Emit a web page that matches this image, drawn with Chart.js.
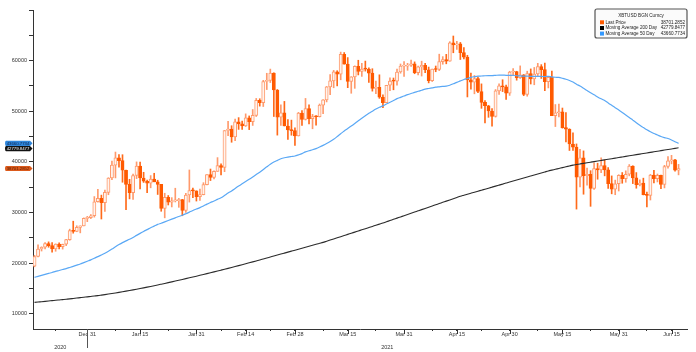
<!DOCTYPE html>
<html><head><meta charset="utf-8">
<script src="https://cdn.jsdelivr.net/npm/chart.js@4.4.1/dist/chart.umd.min.js"></script>
<style>html,body{margin:0;padding:0;background:#fff;}#wrap{width:696px;height:352px;position:relative;}</style>
</head><body><div id="wrap"><canvas id="c" width="696" height="352"></canvas></div>
<script>
// Daily candles from 2020-12-16 to 2021-06-17; x = day offset from 2020-12-31
const firstDay = -15;
const opens = [
19427,21310,22806,23138,23870,23478,22804,23783,23242,23736,
24665,26437,26273,27085,27362,28841,29002,29374,32127,32782,
31972,33992,36824,39371,40797,40254,38356,35566,33922,37316,
39188,36825,36178,35792,36630,36070,35548,30825,33006,32068,
32289,32366,32569,30432,33467,34316,34270,33115,33538,35510,
37473,36926,38144,39266,38903,46196,46481,44919,47909,47504,
47105,48717,47945,49199,52149,51679,55888,56100,57540,54207,
48825,49705,47093,46339,46188,45137,49632,48378,50538,48562,
48928,48912,51206,52247,54824,56008,57805,57332,61243,59302,
55907,56804,58870,57859,58346,58313,57524,54529,54738,52775,
51704,55137,55974,55947,57750,58918,58930,59095,59384,57603,
58758,59057,58192,56048,58323,58245,59793,60204,59893,63503,
63109,63315,61572,60683,56216,55724,56473,53906,51763,51093,
50050,49004,54021,55033,54824,53555,57750,57828,56631,57200,
53333,57424,56396,57357,58803,58232,55859,56704,49150,49716,
49880,46760,46456,43538,42910,36964,40784,37304,37536,34771,
38706,38403,39295,38437,35698,34617,35678,37333,36694,37568,
39188,36851,35520,35796,33552,33380,37389,36702,37334,35552,
39097,40218,40406,38347];
const highs = [
21560,23642,23238,24085,24209,24060,23812,24024,23768,24711,
26718,28288,27389,27370,28937,29244,29601,33155,34608,33441,
34438,36879,40180,41946,41436,41421,38400,36568,37600,40000,
39966,37951,36415,37299,37755,36378,35552,33811,33360,32944,
34802,32794,32600,33783,38406,34834,34288,34638,35896,37480,
38592,38225,40846,39621,46203,48004,47145,48463,48745,48047,
49487,49079,50341,52533,52474,56113,57505,58330,57600,54300,
51290,51948,48370,48253,46716,49784,50127,52535,51274,49396,
49147,51439,52314,54901,57258,58065,58012,61683,61597,60602,
56833,58970,60075,59469,59911,58588,58405,55985,57200,53230,
55138,56610,56568,58342,59337,59800,59469,60110,59754,58913,
59891,59479,58731,58338,58937,61276,60790,61238,63742,64863,
63821,63595,62572,61057,57520,57062,56757,55410,52131,51167,
50554,54288,55416,56227,55196,57900,58448,57900,58963,57250,
57911,58363,58650,59464,59210,59519,56873,57939,51330,51438,
50639,49720,46550,45749,43547,42462,42172,38776,38271,39835,
39742,40782,40379,38856,37234,36400,37469,37897,38237,39476,
39242,37892,36436,36790,34017,37534,38334,37608,37400,39322,
41064,41295,40516,39513];
const lows = [
19278,21234,22399,22827,23147,22160,22353,22802,22778,23463,
24522,25922,26207,25987,27360,28201,28803,29091,32052,28722,
30221,33514,36491,36838,38980,35984,30549,32697,32584,36700,
34659,35944,33906,34884,36069,33570,30250,28953,31493,31106,
32087,31030,29367,30023,32064,32940,32270,32384,33489,35443,
36317,36658,38138,37446,38076,45166,43881,44187,46424,46392,
47000,46379,47201,48968,51015,50938,54288,55672,48967,45290,
47213,47093,44454,45269,43241,45115,47228,48274,47503,46542,
47257,48868,49506,51845,53290,54638,55012,56217,59302,54656,
53555,54528,57178,56889,57931,55706,53978,53470,52548,50702,
51700,54077,54242,55139,57520,56870,58089,58869,57413,57168,
56957,57646,55604,55879,57807,58038,59289,59373,59870,61555,
62209,60222,60361,52829,54368,53448,53695,50583,47714,48805,
47045,48853,53319,53887,52330,53129,57052,56141,56478,53074,
52969,55382,55235,56975,56482,54071,54608,49150,46980,48868,
46664,43963,42255,42251,30681,35050,33616,35400,31227,34551,
36581,37869,37247,34779,33693,33520,34253,35787,35981,37243,
35717,34800,35258,33480,31114,32475,35847,36044,34728,34865,
38787,39609,38176,37439];
const closes = [
21310,22806,23138,23870,23478,22804,23783,23242,23736,24665,
26437,26273,27085,27362,28841,29002,29374,32127,32782,31972,
33992,36824,39371,40797,40254,38356,35566,33922,37316,39188,
36825,36178,35792,36630,36070,35548,30825,33006,32068,32289,
32366,32569,30432,33467,34316,34270,33115,33538,35510,37473,
36926,38144,39266,38903,46196,46481,44919,47909,47504,47105,
48717,47945,49199,52149,51679,55888,56100,57540,54207,48825,
49705,47093,46339,46188,45137,49632,48378,50538,48562,48928,
48912,51206,52247,54824,56008,57805,57332,61243,59302,55907,
56804,58870,57859,58346,58313,57524,54529,54738,52775,51704,
55137,55974,55947,57750,58918,58930,59095,59384,57603,58758,
59057,58192,56048,58323,58245,59793,60204,59893,63503,63109,
63315,61572,60683,56216,55724,56473,53906,51763,51093,50050,
49004,54021,55033,54824,53555,57750,57828,56631,57200,53333,
57424,56396,57357,58803,58232,55859,56704,49150,49716,49880,
46760,46456,43538,42910,36964,40784,37304,37536,34771,38706,
38403,39295,38437,35698,34617,35678,37333,36694,37568,39188,
36851,35520,35796,33552,33380,37389,36702,37334,35552,39097,
40218,40406,38347,38701.2852];
const ma200 = [
12250,12320,12390,12460,12530,12600,12670,12740,12810,12880,
12950,13030,13110,13190,13270,13350,13430,13510,13590,13690,
13793,13899,14008,14120,14235,14353,14474,14598,14725,14855,
14988,15124,15263,15405,15550,15698,15849,16001,16154,16309,
16465,16623,16782,16942,17104,17267,17432,17598,17765,17934,
18104,18276,18449,18624,18800,18977,19156,19336,19518,19701,
19885,20071,20258,20447,20637,20830,21023,21216,21409,21602,
21795,21988,22181,22374,22567,22760,22953,23146,23339,23532,
23725,23918,24111,24336,24561,24786,25011,25236,25461,25686,
25911,26136,26361,26586,26811,27036,27261,27486,27711,27936,
28176,28416,28656,28896,29136,29376,29616,29856,30096,30336,
30576,30816,31056,31296,31536,31776,32016,32256,32496,32736,
32976,33216,33416,33616,33816,34016,34216,34416,34616,34816,
35016,35216,35416,35616,35816,36016,36216,36416,36616,36816,
37016,37216,37416,37616,37816,38016,38216,38381,38546,38711,
38876,39041,39206,39371,39486,39601,39716,39831,39946,40061,
40176,40291,40406,40521,40636,40751,40866,40979,41092,41205,
41318,41431,41544,41657,41770,41883,41996,42109,42222,42335,
42448,42561,42674,42779.8477];
const ma50 = [
17200,17391,17585,17791,17985,18166,18371,18556,18748,18930,
19147,19376,19608,19849,20120,20386,20648,20964,21298,21618,
21963,22346,22777,23237,23668,24062,24406,24717,25081,25490,
25884,26265,26626,26995,27324,27659,27892,28163,28430,28693,
28953,29221,29463,29761,30082,30406,30692,30980,31305,31666,
31978,32285,32608,32909,33363,33837,34260,34753,35228,35677,
36123,36557,36999,37495,37952,38490,39025,39533,39962,40299,
40613,40818,40957,41065,41163,41388,41643,41973,42198,42393,
42633,42933,43263,43628,44028,44473,45003,45568,46113,46583,
47073,47598,48148,48643,49123,49588,50018,50443,50788,51073,
51438,51793,52123,52498,52753,53003,53288,53518,53718,53953,
54158,54363,54498,54623,54753,54833,54913,54963,55148,55433,
55703,55993,56278,56478,56688,56828,56938,56963,57013,57036,
57038,57094,57150,57150,57101,57100,57110,57018,56976,56925,
56937,56887,56877,56886,56884,56851,56894,56782,56721,56685,
56518,56328,56080,55783,55344,54981,54545,54108,53651,53250,
52837,52459,52107,51655,51182,50700,50243,49779,49260,48782,
48253,47732,47234,46781,46334,45952,45608,45319,45008,44789,
44613,44330,43990,43660.7734];
const majorDays = [0,15,31,45,59,74,90,105,120,135,151,166];
const majorLabels = ['Dec 31','Jan 15','Jan 31','Feb 14','Feb 28','Mar 15','Mar 31','Apr 15','Apr 30','May 15','May 31','Jun 15'];
const minorDays = [-9,8,23,38,52,67,82,98,112,128,143,159];
const yearLabels = ['2020','2021'];
const yearBreakDay = 0;
const yTicks = [10000,15000,20000,25000,30000,35000,40000,45000,50000,55000,60000,65000,70000];
const legendTitle = 'XBTUSD BGN Curncy';
const seriesNames = ['Last Price','Moving Average 200 Day','Moving Average 50 Day'];

const UP_LINE = '#ff9a6c', DOWN = '#ff5a00', BLUE = '#5aa8f5', BLACK = '#2b2b2b';
const FONT = '"Liberation Sans", Arial, sans-serif';
const dayOf = i => firstDay + i;
const isUp = i => closes[i] >= opens[i];

const wickData = opens.map((o, i) => ({x: dayOf(i), y: [lows[i], highs[i]]}));
const bodyData = opens.map((o, i) => ({x: dayOf(i), y: [o, closes[i]]}));
const ma200Data = ma200.map((v, i) => ({x: dayOf(i), y: v}));
const ma50Data = ma50.map((v, i) => ({x: dayOf(i), y: v}));

const labelFor = d => { const k = majorDays.indexOf(d); return k >= 0 ? majorLabels[k] : ''; };

const overlay = {
  id: 'overlay',
  afterDraw(chart) {
    const ctx = chart.ctx, xs = chart.scales.x, ys = chart.scales.y, ca = chart.chartArea;
    ctx.save();
    ctx.strokeStyle = '#333'; ctx.lineWidth = 1;
    majorDays.forEach(d => {
      const x = Math.round(xs.getPixelForValue(d)) + 0.5;
      ctx.beginPath(); ctx.moveTo(x, ca.bottom); ctx.lineTo(x, ca.bottom + 5); ctx.stroke();
    });
    const xb = Math.round(xs.getPixelForValue(yearBreakDay)) + 0.5;
    ctx.strokeStyle = '#555';
    ctx.beginPath(); ctx.moveTo(xb, ca.bottom); ctx.lineTo(xb, ca.bottom + 19); ctx.stroke();
    ctx.font = '5.5px ' + FONT; ctx.fillStyle = '#333'; ctx.textAlign = 'center'; ctx.textBaseline = 'middle';
    ctx.fillText(yearLabels[0], (ca.left + xb) / 2, ca.bottom + 18);
    ctx.fillText(yearLabels[1], (xb + ca.right) / 2, ca.bottom + 18);

    // value tags on the y axis
    const n = closes.length - 1;
    const tags = [
      {v: ma50[n], bg: '#2f86db', fg: '#0d2550'},
      {v: ma200[n], bg: '#111111', fg: '#ffffff'},
      {v: closes[n], bg: '#db5a1c', fg: '#5a1e00'}
    ];
    const h = 5.2; let prev = -100;
    tags.forEach(t => {
      let y = ys.getPixelForValue(t.v);
      if (y < prev + h) y = prev + h;
      prev = y;
      ctx.fillStyle = t.bg;
      ctx.beginPath();
      ctx.moveTo(6, y - h / 2); ctx.lineTo(30, y - h / 2); ctx.lineTo(32.5, y); ctx.lineTo(30, y + h / 2);
      ctx.lineTo(6, y + h / 2); ctx.quadraticCurveTo(5, y + h / 2, 5, y); ctx.quadraticCurveTo(5, y - h / 2, 6, y - h / 2);
      ctx.fill();
      ctx.fillStyle = t.fg; ctx.font = '4.3px ' + FONT; ctx.textAlign = 'center'; ctx.textBaseline = 'middle';
      ctx.fillText(t.v.toFixed(4), 18, y + 0.3);
    });

    // legend box
    const bx = 595, by = 9, bw = 92, bh = 29, r = 2;
    ctx.fillStyle = '#fbfbfb'; ctx.strokeStyle = '#555'; ctx.lineWidth = 1.2;
    ctx.beginPath();
    ctx.moveTo(bx + r, by); ctx.lineTo(bx + bw - r, by); ctx.quadraticCurveTo(bx + bw, by, bx + bw, by + r);
    ctx.lineTo(bx + bw, by + bh - r); ctx.quadraticCurveTo(bx + bw, by + bh, bx + bw - r, by + bh);
    ctx.lineTo(bx + r, by + bh); ctx.quadraticCurveTo(bx, by + bh, bx, by + bh - r);
    ctx.lineTo(bx, by + r); ctx.quadraticCurveTo(bx, by, bx + r, by);
    ctx.fill(); ctx.stroke();
    ctx.fillStyle = '#222'; ctx.font = '4.6px ' + FONT; ctx.textAlign = 'center';
    ctx.fillText(legendTitle, bx + bw / 2, 16);
    const rows = [
      {c: DOWN, v: closes[n]}, {c: '#000', v: ma200[n]}, {c: '#3399ff', v: ma50[n]}
    ];
    const ry = [22.3, 28, 33.6];
    rows.forEach((row, k) => {
      ctx.fillStyle = row.c; ctx.fillRect(600, ry[k] - 2, 4, 4);
      ctx.fillStyle = '#222'; ctx.font = '4.6px ' + FONT;
      ctx.textAlign = 'left'; ctx.fillText(seriesNames[k], 605.5, ry[k]);
      ctx.textAlign = 'right'; ctx.fillText(row.v.toFixed(4), 685, ry[k]);
    });
    ctx.restore();
  }
};

new Chart(document.getElementById('c'), {
  data: {
    datasets: [
      {type: 'line', data: ma50Data, borderColor: BLUE, borderWidth: 1.2, pointRadius: 0, cubicInterpolationMode: 'monotone', order: 0},
      {type: 'line', data: ma200Data, borderColor: BLACK, borderWidth: 1.1, pointRadius: 0, cubicInterpolationMode: 'monotone', order: 1},
      {type: 'bar', data: bodyData, grouped: false, barThickness: 3.2, minBarLength: 1, borderSkipped: false, borderWidth: 1,
       backgroundColor: c => isUp(c.dataIndex) ? '#fff4ee' : DOWN,
       borderColor: c => isUp(c.dataIndex) ? UP_LINE : DOWN, order: 2},
      {type: 'bar', data: wickData, grouped: false, barThickness: 1, borderWidth: 0,
       backgroundColor: c => isUp(c.dataIndex) ? UP_LINE : '#ff6a1a', order: 3}
    ]
  },
  options: {
    responsive: false, animation: false, devicePixelRatio: 1,
    layout: {padding: {top: 10, right: 9, left: 0, bottom: 0}},
    plugins: {legend: {display: false}, tooltip: {enabled: false}},
    scales: {
      x: {
        type: 'linear', min: -15.43, max: 170.4, offset: false,
        afterBuildTicks: s => { s.ticks = minorDays.concat(majorDays).sort((a, b) => a - b).map(v => ({value: v})); },
        afterFit: s => { s.height = 23; },
        ticks: {autoSkip: false, maxRotation: 0, padding: 0, color: '#333', font: {size: 5.5, family: FONT},
                callback: v => labelFor(v)},
        grid: {drawOnChartArea: false, drawTicks: true, tickLength: 2, tickColor: '#333', offset: false},
        border: {display: true, color: '#333', width: 1}
      },
      y: {
        type: 'linear', position: 'left', min: 7000, max: 70000,
        afterBuildTicks: s => { s.ticks = yTicks.map(v => ({value: v})); },
        afterFit: s => { s.width = 33; },
        ticks: {padding: 2, color: '#333', font: {size: 5.5, family: FONT},
                callback: v => (v % 10000 === 0 && v < 70000) ? String(v) : ''},
        grid: {drawOnChartArea: false, drawTicks: true, tickLength: 4, tickColor: '#333'},
        border: {display: true, color: '#333', width: 1}
      }
    }
  },
  plugins: [overlay]
});
</script>
</body></html>
